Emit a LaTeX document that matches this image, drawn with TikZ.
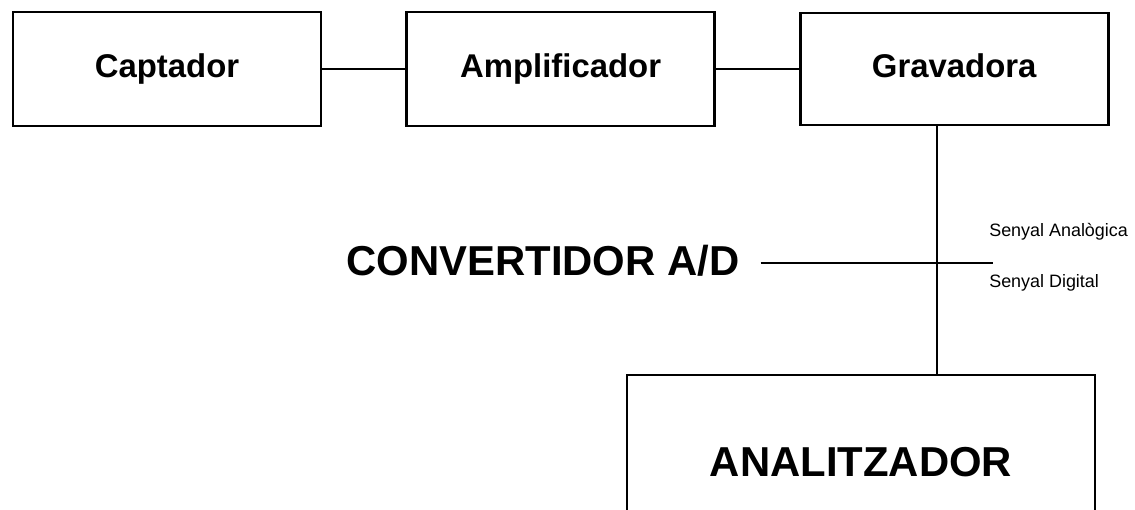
\documentclass[tikz,border=0pt]{standalone}
\usepackage{fontspec}
\setmainfont{Liberation Sans}
\usetikzlibrary{positioning}

\begin{document}
\begin{tikzpicture}[x=1bp,y=-1bp,line width=2.6bp,node distance=83bp,
  caixa/.style n args={2}{draw,rectangle,inner sep=0pt,minimum width=#1bp,minimum height=#2bp},
  etiq/.style={font=\fontsize{33}{40}\selectfont\bfseries,text height=24bp,text depth=7bp},
  gran/.style={font=\fontsize{42}{50}\selectfont\bfseries},
  petit/.style={font=\fontsize{18}{22}\selectfont,inner sep=0pt,anchor=west}]
\useasboundingbox (0,0) rectangle (1135,510);
\clip (0,0) rectangle (1135,510);
\node[caixa={308}{114},etiq] (capt) at (167,69) {Captador};
\node[caixa={308}{114},etiq,right=of capt] (ampl) {Amplificador};
\node[caixa={308}{112},etiq,right=of ampl] (grav) {Gravadora};
\node[caixa={468}{174},gran] (anal) at (861,462) {ANALITZADOR};
\node[gran,inner xsep=20bp] (conv) at (543,261) {CONVERTIDOR A/D};
\coordinate (cruce) at (937,263);
\coordinate (fi) at (993,263);
\node[petit] (analog) at (988,232) {Senyal Analògica};
\node[petit] (digit) at (988,283) {Senyal Digital};
\draw (capt) -- (ampl);
\draw (ampl) -- (grav);
\draw (grav.south -| cruce) -- (anal.north -| cruce);
\draw (conv.east |- fi) -- (fi);
\end{tikzpicture}
\end{document}
